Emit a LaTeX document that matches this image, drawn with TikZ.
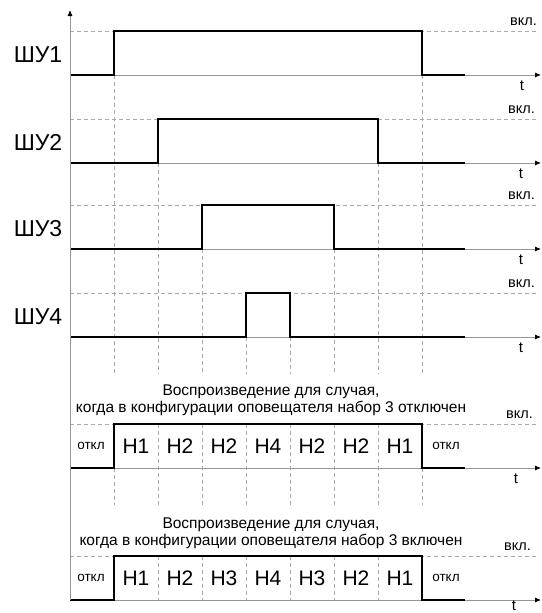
\documentclass[tikz,border=0pt]{standalone}
\usepackage{fontspec}
\setmainfont{Liberation Sans}
\usetikzlibrary{arrows.meta}
\definecolor{axgray}{RGB}{150,150,150}
\definecolor{dgray}{RGB}{170,170,170}
\tikzset{
  sig/.style={line width=1.9pt, black, line join=miter},
  base/.style={line width=0.8pt, axgray},
  xaxis/.style={base, -{Latex[length=6pt,width=5pt,black]}},
  gridln/.style={line width=0.7pt, dgray, dash pattern=on 4pt off 3pt},
  lbl/.style={font=\fontsize{23}{27}\selectfont, inner sep=0pt},
  hl/.style={font=\fontsize{21}{25}\selectfont, inner sep=0pt},
  vk/.style={font=\fontsize{14.5}{17}\selectfont, inner sep=0pt, anchor=east},
  tl/.style={font=\fontsize{15}{17}\selectfont, inner sep=0pt},
  offtxt/.style={font=\fontsize{13.5}{16}\selectfont, inner sep=0pt},
  captxt/.style={font=\fontsize{15.5}{17}\selectfont, inner sep=0pt, align=center}
}
\begin{document}
\begin{tikzpicture}[x=1pt,y=-1pt]
\useasboundingbox (0,0) rectangle (541,613);
% coordinates
\coordinate (ytop) at (70,10);
\coordinate (ybot) at (70,600);
% vertical grid dashed
\foreach \x/\ys in {114/75,158/163,202/249,246/337,290/337,334/249,378/163,422/75}{
  \draw[gridln] (\x,\ys) -- (\x,374);
}
\foreach \x in {158,202,246,290,334,378}{
  \draw[gridln] (\x,424) -- (\x,505);
  \draw[gridln] (\x,556) -- (\x,600);
}
\foreach \x in {114,422}{
  \draw[gridln] (\x,468) -- (\x,505);
}
% rows
\foreach \b/\r/\f/\n in {75/114/422/1,163/158/378/2,249/202/334/3,337/246/290/4,468/114/422/5,600/114/422/6}{
  \coordinate (hs\n) at (70,\b-44);
  \coordinate (he\n) at (538,\b-44);
  \coordinate (bs\n) at (70,\b);
  \coordinate (be\n) at (541,\b);
  \draw[gridln] (hs\n) -- (he\n);
  \draw[xaxis] (bs\n) -- (be\n);
  \draw[sig] (70,\b) -- (\r,\b) -- (\r,\b-44) -- (\f,\b-44) -- (\f,\b) -- (465,\b);
}
\draw[line width=0.8pt, axgray, -{Latex[length=6pt,width=5pt,black]}] (ybot) -- (ytop);
% labels
\node[lbl] (l1) at (38,55) {ШУ1};
\node[lbl] (l2) at (38,143) {ШУ2};
\node[lbl] (l3) at (38,229) {ШУ3};
\node[lbl] (l4) at (38,317) {ШУ4};
\foreach \b/\n/\tx/\vx in {75/1/522/537,163/2/521/535,249/3/521/535,337/4/521/535,468/5/516/533,600/6/514/531}{
  \node[vk] (v\n) at (\vx,\b-53) {вкл.};
}
\foreach \b/\n/\tx in {75/1/522,163/2/521,249/3/521,337/4/521,468/5/516}{
  \node[tl] (t\n) at (\tx,\b+11) {t};
}
\node[tl] (t6) at (514,606) {t};
% row 5
\node[captxt] (c5) at (271,400) {Воспроизведение для случая,\\когда в конфигурации оповещателя набор 3 отключен};
\node[offtxt] (o5a) at (91,446) {откл};
\node[offtxt] (o5b) at (446,446) {откл};
\foreach \x/\t [count=\i] in {136/H1,180/H2,224/H2,268/H4,312/H2,356/H2,400/H1}{
  \node[hl] (h5\i) at (\x,446) {\t};
}
% row 6
\node[captxt] (c6) at (271,533) {Воспроизведение для случая,\\когда в конфигурации оповещателя набор 3 включен};
\node[offtxt] (o6a) at (91,578) {откл};
\node[offtxt] (o6b) at (446,578) {откл};
\foreach \x/\t [count=\i] in {136/H1,180/H2,224/H3,268/H4,312/H3,356/H2,400/H1}{
  \node[hl] (h6\i) at (\x,578) {\t};
}
\end{tikzpicture}
\end{document}
